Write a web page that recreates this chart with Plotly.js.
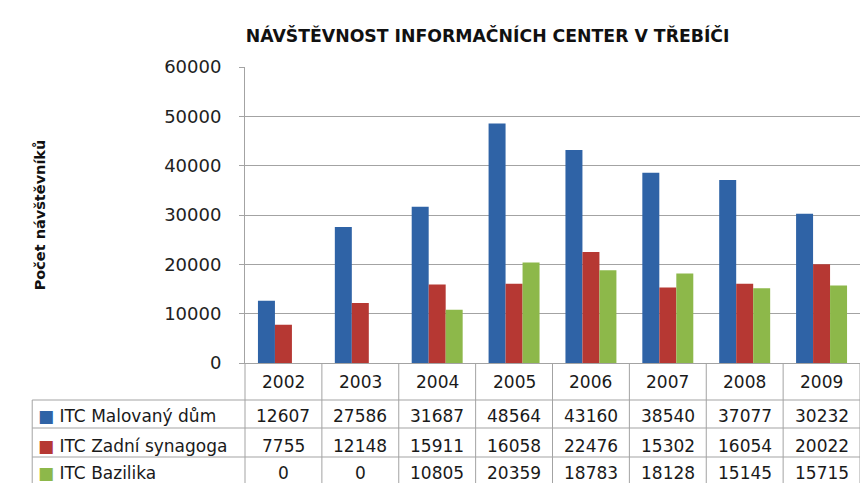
<!DOCTYPE html>
<html>
<head>
<meta charset="utf-8">
<script src="https://cdn.plot.ly/plotly-3.0.1.min.js"></script>
<style>html,body{margin:0;padding:0;background:#fff;}#chart{width:860px;height:483px;}</style>
</head>
<body>
<div id="chart"></div>
<script>
const years = ['2002', '2003', '2004', '2005', '2006', '2007', '2008', '2009'];
const malovanyDum = [12607, 27586, 31687, 48564, 43160, 38540, 37077, 30232];
const zadniSynagoga = [7755, 12148, 15911, 16058, 22476, 15302, 16054, 20022];
const bazilika = [0, 0, 10805, 20359, 18783, 18128, 15145, 15715];
const seriesNames = ['ITC Malovaný dům', 'ITC Zadní synagoga', 'ITC Bazilika'];
const seriesValues = [malovanyDum, zadniSynagoga, bazilika];
const seriesColors = ['#2f63a6', '#b63833', '#8db84a'];
const yTickValues = [0, 10000, 20000, 30000, 40000, 50000, 60000];
const chartTitle = 'NÁVŠTĚVNOST INFORMAČNÍCH CENTER V TŘEBÍČI';
const yTitle = 'Počet návštěvníků';

const FONT = 'DejaVu Sans, sans-serif';
const GRID = '#a3a3a3';

const traces = seriesNames.map((name, s) => ({
  type: 'bar',
  name: name,
  x: years,
  y: seriesValues[s],
  marker: {color: seriesColors[s], line: {width: 0}},
  showlegend: false,
  hoverinfo: 'x+y+name'
}));

// table layout (paper coords)
const rowCenters = [-0.179, -0.2804, -0.3716];
const headerCenter = -0.0625;
const hLines = [-0.125, -0.2196, -0.3176];
const tableLeft = -0.346;
const tableBottom = -0.46;

const annotations = [];
const shapes = [];

years.forEach((yr, i) => {
  annotations.push({
    xref: 'x', yref: 'paper', x: i, y: headerCenter,
    text: yr, showarrow: false, xanchor: 'center', yanchor: 'middle',
    font: {family: FONT, size: 17, color: '#1a1a1a'}
  });
  seriesValues.forEach((vals, s) => {
    annotations.push({
      xref: 'x', yref: 'paper', x: i, y: rowCenters[s],
      text: String(vals[i]), showarrow: false, xanchor: 'center', yanchor: 'middle',
      font: {family: FONT, size: 17, color: '#1a1a1a'}
    });
  });
});

seriesNames.forEach((name, s) => {
  annotations.push({
    xref: 'paper', yref: 'paper', x: tableLeft + 0.006, y: rowCenters[s],
    text: '<span style="color:' + seriesColors[s] + '">■</span> ' + name,
    showarrow: false, xanchor: 'left', yanchor: 'middle',
    font: {family: FONT, size: 17, color: '#1a1a1a'}
  });
});

for (let i = 0; i <= years.length; i++) {
  shapes.push({
    type: 'line', xref: 'paper', yref: 'paper',
    x0: i / years.length, x1: i / years.length, y0: 0, y1: tableBottom,
    line: {color: GRID, width: 1}
  });
}
shapes.push({
  type: 'line', xref: 'paper', yref: 'paper',
  x0: tableLeft, x1: tableLeft, y0: hLines[0], y1: tableBottom,
  line: {color: GRID, width: 1}
});
hLines.forEach(h => {
  shapes.push({
    type: 'line', xref: 'paper', yref: 'paper',
    x0: tableLeft, x1: 1, y0: h, y1: h,
    line: {color: GRID, width: 1}
  });
});

const layout = {
  width: 860,
  height: 483,
  margin: {l: 245, r: 0, t: 67, b: 120, pad: 0},
  paper_bgcolor: '#ffffff',
  plot_bgcolor: '#ffffff',
  barmode: 'group',
  bargap: 0.337,
  bargroupgap: 0,
  title: {
    text: '<b>' + chartTitle + '</b>',
    x: 0.567, xref: 'container', xanchor: 'center',
    y: 0.926, yref: 'container', yanchor: 'middle',
    font: {family: FONT, size: 17.3, color: '#111'}
  },
  xaxis: {
    type: 'category',
    range: [-0.5, years.length - 0.5],
    showticklabels: false,
    ticks: '',
    showline: true, linecolor: GRID, linewidth: 1,
    showgrid: false, zeroline: false, fixedrange: true
  },
  yaxis: {
    range: [0, 60000],
    tickvals: yTickValues,
    ticktext: yTickValues.map(String),
    ticks: 'outside', ticklen: 5, tickcolor: GRID,
    ticklabelstandoff: 14,
    tickfont: {family: FONT, size: 18, color: '#222'},
    showline: true, linecolor: GRID, linewidth: 1,
    showgrid: true, gridcolor: GRID, gridwidth: 1,
    zeroline: false, fixedrange: true,
    title: {text: '<b>' + yTitle + '</b>', standoff: 115, font: {family: FONT, size: 14.5, color: '#111'}}
  },
  annotations: annotations,
  shapes: shapes
};

Plotly.newPlot('chart', traces, layout, {displayModeBar: false, staticPlot: true});
</script>
</body>
</html>
